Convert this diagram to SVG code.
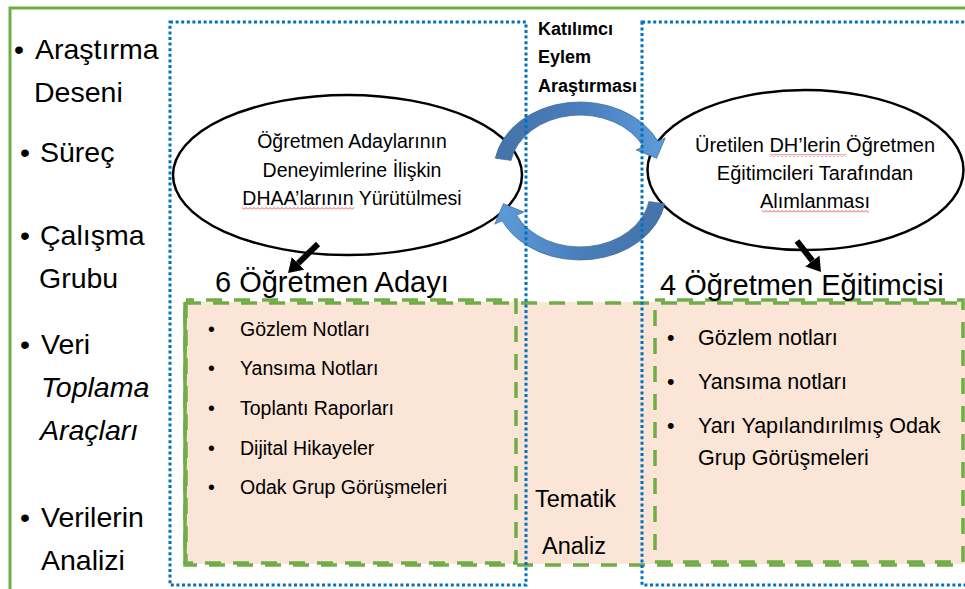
<svg xmlns="http://www.w3.org/2000/svg" width="965" height="589" viewBox="0 0 965 589">
<style>
text{font-family:"Liberation Sans",Arial,sans-serif;fill:#000}
.lbl{font-size:28.5px}
.big{font-size:29px}
.ell{font-size:19.5px;text-anchor:middle}
.ellr{font-size:20px;text-anchor:middle}
.li{font-size:19.5px}
.ri{font-size:21.5px}
.kea{font-size:18px;font-weight:bold}
.tem{font-size:23.5px}
.blue{fill:none;stroke:#0070c0;stroke-width:3;stroke-dasharray:3 2.6}
.gd{fill:none;stroke:#70ad47;stroke-width:3.5;stroke-dasharray:16 12}
.ellipse{fill:#fff;stroke:#000;stroke-width:2.5}
.carrow{fill:url(#bg);stroke:#41719c;stroke-width:0.8}
.barrow{stroke:#000;stroke-width:6;fill:none;marker-end:url(#ah)}
</style>
<defs>
<linearGradient id="bg" x1="0" y1="0" x2="1" y2="0">
<stop offset="0" stop-color="#4573aa"/>
<stop offset="0.5" stop-color="#4a7dba"/>
<stop offset="1" stop-color="#5d9ddb"/>
</linearGradient>
<marker id="ah" viewBox="0 0 14 18" refX="0" refY="9" markerWidth="14" markerHeight="18" markerUnits="userSpaceOnUse" orient="auto">
<path d="M0,0 L14,9 L0,18 Z" fill="#000"/>
</marker>
<pattern id="sq" width="4" height="3" patternUnits="userSpaceOnUse">
<path d="M0,2.5 L2,0.5 L4,2.5" fill="none" stroke="#e02020" stroke-width="0.8"/>
</pattern>
</defs>

<g id="frame">
<rect x="10" y="8" width="975" height="600" fill="none" stroke="#70ad47" stroke-width="3"/>
</g>

<g id="data-area">
<rect x="185" y="302" width="785" height="262" fill="#fbe5d6"/>
<rect x="185" y="303" width="785" height="262" class="gd"/>
<rect x="186" y="300" width="330" height="263" class="gd" stroke-dashoffset="8"/>
<line x1="185" y1="302" x2="185" y2="564" stroke="#70ad47" stroke-width="3.5"/>
<rect x="655" y="300" width="308" height="262" class="gd" stroke-dashoffset="6"/>
</g>

<g id="node-ellipse-left">
<ellipse cx="347.5" cy="175" rx="174.5" ry="80" class="ellipse"/>
<text class="ell" x="352" y="148">Öğretmen Adaylarının</text>
<text class="ell" x="352" y="177">Deneyimlerine İlişkin</text>
<text class="ell" x="352" y="205">DHAA’larının Yürütülmesi</text>
<rect x="242" y="207" width="112" height="3" fill="url(#sq)"/>
</g>

<g id="node-ellipse-right">
<ellipse cx="805.5" cy="170" rx="158" ry="80" class="ellipse"/>
<text class="ellr" x="815" y="152">Üretilen DH’lerin Öğretmen</text>
<text class="ellr" x="815" y="180">Eğitimcileri Tarafından</text>
<text class="ellr" x="815" y="208">Alımlanması</text>
<rect x="770" y="154" width="76" height="3" fill="url(#sq)"/>
<rect x="762" y="210" width="107" height="3" fill="url(#sq)"/>
</g>

<g id="connectors">
<path class="carrow" d="M495.3,158.2 A86,68 0 0 1 657.9,141.2 L665.2,137.9 L656.6,158.3 L636.2,149.9 L643.4,146.7 A70,55 0 0 0 511.1,160.4 Z"/>
<path class="carrow" transform="rotate(180 580 181)" d="M495.3,158.2 A86,68 0 0 1 657.9,141.2 L665.2,137.9 L656.6,158.3 L636.2,149.9 L643.4,146.7 A70,55 0 0 0 511.1,160.4 Z"/>
<line class="barrow" x1="318" y1="244" x2="298.1" y2="263.3"/>
<line class="barrow" x1="797" y1="241" x2="812.4" y2="260.9"/>
</g>

<g id="regions">
<rect x="170" y="22" width="356" height="563" class="blue"/>
<rect x="642" y="22" width="340" height="563" class="blue"/>
</g>

<g id="node-labels">
<text class="lbl" x="14" y="59">•</text>
<text class="lbl" x="35" y="59">Araştırma</text>
<text class="lbl" x="34" y="102">Deseni</text>
<text class="lbl" x="20" y="162">•</text>
<text class="lbl" x="40" y="162">Süreç</text>
<text class="lbl" x="20" y="245">•</text>
<text class="lbl" x="40" y="245">Çalışma</text>
<text class="lbl" x="39" y="288">Grubu</text>
<text class="lbl" x="20" y="354">•</text>
<text class="lbl" x="41" y="354">Veri</text>
<text class="lbl" x="41" y="397" font-style="italic">Toplama</text>
<text class="lbl" x="40" y="440" font-style="italic">Araçları</text>
<text class="lbl" x="20" y="527">•</text>
<text class="lbl" x="41" y="527">Verilerin</text>
<text class="lbl" x="41" y="570">Analizi</text>
</g>

<g id="node-kea">
<text class="kea" x="538" y="35">Katılımcı</text>
<text class="kea" x="538" y="63">Eylem</text>
<text class="kea" x="538" y="92">Araştırması</text>
</g>

<g id="node-6-ogretmen-adayi">
<text class="big" x="215" y="292">6 Öğretmen Adayı</text>
</g>

<g id="node-4-ogretmen-egitimcisi">
<text class="big" x="660" y="295">4 Öğretmen Eğitimcisi</text>
</g>

<g id="node-list-left">
<text class="li" x="208" y="336">•</text><text class="li" x="240" y="336">Gözlem Notları</text>
<text class="li" x="208" y="375">•</text><text class="li" x="240" y="375">Yansıma Notları</text>
<text class="li" x="208" y="415">•</text><text class="li" x="240" y="415">Toplantı Raporları</text>
<text class="li" x="208" y="455">•</text><text class="li" x="240" y="455">Dijital Hikayeler</text>
<text class="li" x="208" y="494">•</text><text class="li" x="240" y="494">Odak Grup Görüşmeleri</text>
</g>

<g id="node-tematik">
<text class="tem" x="535" y="507">Tematik</text>
<text class="tem" x="542" y="554">Analiz</text>
</g>

<g id="node-list-right">
<text class="ri" x="667" y="345">•</text><text class="ri" x="698" y="345">Gözlem notları</text>
<text class="ri" x="667" y="389">•</text><text class="ri" x="698" y="389">Yansıma notları</text>
<text class="ri" x="667" y="433">•</text><text class="ri" x="698" y="433">Yarı Yapılandırılmış Odak</text>
<text class="ri" x="698" y="465">Grup Görüşmeleri</text>
</g>
</svg>
